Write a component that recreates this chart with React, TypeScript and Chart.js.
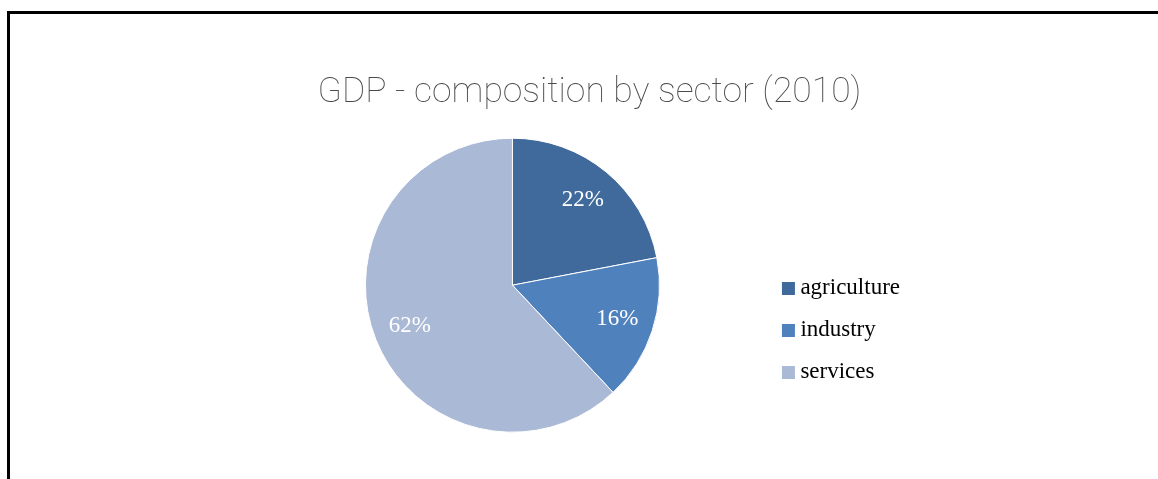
import React, { useEffect, useRef } from "react";
import { Chart, registerables } from "chart.js";

Chart.register(...registerables);

const sectors = ["agriculture", "industry", "services"];
const shares = [22, 16, 62];
const sliceColors = ["#3F6A9B", "#4F81BD", "#AAB9D6"];
const chartTitle = "GDP - composition by sector (2010)";

function makeSwatch(color: string): HTMLCanvasElement {
  const c = document.createElement("canvas");
  c.width = 40;
  c.height = 13;
  const g = c.getContext("2d")!;
  g.fillStyle = color;
  g.fillRect(20, 0, 13, 13);
  return c;
}

const sliceLabelPlugin = {
  id: "sliceLabels",
  afterDatasetsDraw(chart: any) {
    const meta = chart.getDatasetMeta(0);
    const ctx = chart.ctx;
    ctx.save();
    ctx.font = '23px "Liberation Serif", "Times New Roman", serif';
    ctx.fillStyle = "#ffffff";
    ctx.textAlign = "center";
    ctx.textBaseline = "middle";
    meta.data.forEach((arc: any, i: number) => {
      const p = arc.getProps(["x", "y", "startAngle", "endAngle", "outerRadius"], true);
      const mid = (p.startAngle + p.endAngle) / 2;
      const r = p.outerRadius * 0.75;
      ctx.fillText(shares[i] + "%", p.x + Math.cos(mid) * r, p.y + Math.sin(mid) * r);
    });
    ctx.restore();
  },
};

export default function App() {
  const ref = useRef<HTMLCanvasElement | null>(null);
  useEffect(() => {
    if (!ref.current) return;
    const swatches = sliceColors.map(makeSwatch);
    const chart = new Chart(ref.current, {
      type: "pie",
      data: {
        labels: sectors,
        datasets: [
          {
            data: shares,
            backgroundColor: sliceColors,
            borderColor: "#ffffff",
            borderWidth: 1,
            radius: 147,
          } as any,
        ],
      },
      options: {
        responsive: false,
        animation: false,
        layout: { padding: { left: 269, right: 248, top: 0, bottom: 39 } },
        plugins: {
          tooltip: { enabled: false },
          title: {
            display: true,
            text: chartTitle,
            color: "#4a4a4a",
            font: { family: "Roboto", size: 35.5, weight: 100 as any },
            padding: { top: 72, bottom: 15.8 },
          },
          legend: {
            display: true,
            position: "right",
            align: "center",
            fullSize: false,
            title: {
              display: true,
              text: " ",
              font: { size: 10, lineHeight: 1 },
              padding: { top: 80, bottom: 0 },
            },
            labels: {
              usePointStyle: true,
              boxWidth: 14,
              padding: 19,
              color: "#000000",
              font: { family: '"Liberation Serif", "Times New Roman", serif', size: 23 },
              generateLabels: (ch: any) =>
                ch.data.labels.map((l: string, i: number) => ({
                  text: l,
                  fillStyle: sliceColors[i],
                  strokeStyle: sliceColors[i],
                  lineWidth: 0,
                  pointStyle: swatches[i],
                  hidden: false,
                  index: i,
                  fontColor: "#000000",
                })),
            },
          },
        },
      },
      plugins: [sliceLabelPlugin],
    });
    return () => chart.destroy();
  }, []);

  return (
    <>
      <div
        style={{
          position: "absolute",
          left: 7,
          top: 11,
          width: 1151,
          height: 468,
          borderTop: "3px solid #000",
          borderLeft: "3px solid #000",
          boxSizing: "border-box",
        }}
      />
      <div style={{ position: "absolute", left: 0, top: 0, width: 1158, height: 479 }}>
        <canvas ref={ref} width={1158} height={479} style={{ display: "block" }} />
      </div>
    </>
  );
}
